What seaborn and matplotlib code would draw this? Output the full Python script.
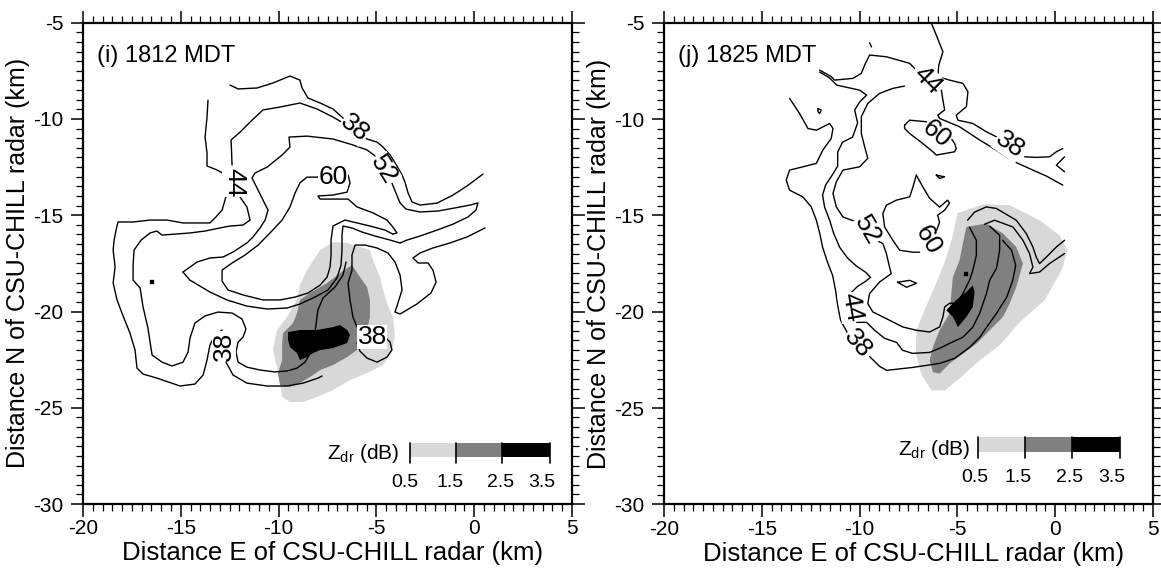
import matplotlib
matplotlib.use("Agg")
import matplotlib.pyplot as plt
from matplotlib.ticker import MultipleLocator
from matplotlib.patches import Rectangle
import pandas as pd
import seaborn as sns

# ---------------- Panel (i) 1812 MDT : reflectivity contours (km) ----------------
I_38NE_X = [-12.48,-12.07,-11.10,-10.29,-9.42,-8.91,-8.80,-8.50,-7.88,-7.22,-6.76,-6.20,-5.48,-4.97,-4.66,-4.30,-3.95,-3.69,-3.54,-3.38,-3.18,-2.77,-1.90,-1.08,-0.37,0.45]
I_38NE_Y = [-8.24,-8.44,-8.39,-8.13,-7.77,-7.98,-8.39,-8.91,-9.17,-9.48,-9.90,-10.42,-11.04,-11.20,-11.46,-11.87,-12.44,-12.91,-13.28,-13.85,-14.31,-14.47,-14.37,-13.95,-13.48,-12.86]
I_44A_X = [-12.38,-12.43,-11.97,-11.46,-10.80,-9.93,-8.91,-8.04,-7.22,-6.61,-6.25]
I_44A_Y = [-12.39,-11.09,-10.68,-10.16,-9.53,-9.38,-9.17,-9.48,-9.90,-10.26,-10.58]
I_44B_X = [-11.97,-11.62,-11.46,-11.82,-12.48,-13.00,-13.76,-14.53,-15.29,-15.96,-16.22,-16.57,-17.03,-17.39,-17.44,-17.44,-17.08,-16.93,-16.68,-16.47,-15.96,-15.45,-14.89,-14.63,-14.53,-14.28,-13.76,-13.10,-12.38,-11.87,-11.67,-11.82,-12.07,-12.18,-12.07,-11.62,-10.95,-10.18,-9.57,-9.06,-8.65,-8.35,-8.19,-8.09,-7.99,-7.73,-7.12,-6.71,-6.55]
I_44B_Y = [-14.06,-14.57,-15.25,-15.51,-15.56,-15.66,-15.82,-15.92,-15.98,-16.03,-15.82,-15.92,-16.29,-16.81,-17.59,-18.37,-18.78,-19.77,-20.86,-22.26,-22.63,-22.83,-22.63,-22.11,-21.38,-20.60,-20.23,-20.03,-20.08,-20.39,-20.91,-21.33,-21.59,-22.11,-22.63,-22.89,-23.04,-23.14,-23.09,-22.94,-22.63,-22.11,-21.48,-20.70,-19.92,-19.30,-18.73,-18.11,-17.43]
I_38WA_X = [-13.61,-13.66,-13.76,-13.66,-13.66,-13.15,-12.59]
I_38WA_Y = [-9.02,-9.90,-10.94,-11.77,-12.44,-12.65,-12.96]
I_38WB_X = [-12.59,-12.74,-12.89,-13.25,-13.51,-14.02,-14.89,-15.70,-16.57,-17.44,-18.21,-18.31,-18.41,-18.46,-18.36,-18.46,-18.26,-18.01,-17.60,-17.34,-17.24,-16.93,-16.22,-15.04,-14.28,-13.86,-13.66,-13.51,-13.25,-12.89]
I_38WB_Y = [-13.59,-14.21,-14.73,-15.14,-15.40,-15.40,-15.40,-15.25,-15.25,-15.35,-15.35,-15.77,-16.29,-16.81,-17.69,-18.52,-19.40,-20.08,-21.12,-22.00,-22.94,-23.25,-23.46,-23.87,-23.77,-23.30,-22.52,-21.74,-21.22,-20.96]
I_38WC_X = [-12.69,-12.33,-11.62,-10.59,-9.57,-8.75,-7.99,-7.78]
I_38WC_Y = [-22.63,-23.30,-23.72,-23.87,-23.87,-23.72,-23.46,-23.35]
I_52A_X = [-14.89,-14.17,-13.51,-12.84,-12.33,-11.62,-11.31,-10.95,-10.69,-10.54,-10.80,-11.10,-11.36,-11.21,-10.59,-9.82,-9.42,-9.47,-8.55,-7.22,-6.20,-5.48,-5.07]
I_52A_Y = [-17.95,-17.43,-17.22,-17.17,-16.91,-16.44,-16.13,-15.66,-15.25,-14.73,-14.21,-13.59,-13.07,-12.81,-12.50,-11.87,-11.46,-10.94,-10.89,-11.04,-11.35,-11.61,-11.92]
I_52B_X = [-4.21,-4.00,-3.79,-3.49,-2.77,-1.85,-0.98,-0.21,0.19,0.09,-0.32,-1.08,-1.90,-2.77,-3.44,-3.79]
I_52B_Y = [-13.32,-13.85,-14.36,-14.68,-14.83,-14.78,-14.62,-14.47,-14.36,-14.73,-15.09,-15.46,-15.77,-16.08,-16.29,-16.44]
I_52C_X = [-14.89,-14.53,-13.51,-12.64,-11.62,-10.59,-9.57,-8.91,-8.14,-7.47,-7.02,-6.81,-6.76,-6.76,-6.71,-6.25,-5.74,-5.07,-4.30,-3.79]
I_52C_Y = [-17.95,-18.37,-18.99,-19.40,-19.72,-19.87,-19.82,-19.61,-19.25,-18.88,-18.26,-17.59,-16.81,-16.03,-15.56,-15.66,-15.87,-16.08,-16.29,-16.44]
I_60A_X = [-7.99,-8.55,-8.91,-9.16,-9.42,-9.82,-10.44,-11.05,-11.72,-12.38,-12.89,-12.89,-12.59,-11.82,-10.80,-9.93,-9.16,-8.50,-7.88,-7.52,-7.37,-7.32,-7.32,-7.22,-6.61,-5.99,-5.33,-4.56,-4.16]
I_60A_Y = [-13.02,-13.02,-13.32,-13.85,-14.57,-15.25,-15.92,-16.55,-17.07,-17.48,-17.85,-18.42,-18.88,-19.14,-19.40,-19.40,-19.25,-19.04,-18.63,-18.21,-17.69,-17.07,-16.29,-15.56,-15.25,-15.40,-15.56,-15.77,-15.98]
I_60B_X = [-6.45,-6.35,-6.50,-7.22,-7.99,-7.88,-7.12,-6.45,-5.99,-5.17,-4.46,-4.16,-3.95,-4.16]
I_60B_Y = [-12.91,-13.32,-13.80,-13.95,-14.00,-14.16,-14.16,-14.16,-14.57,-14.88,-15.25,-15.61,-15.92,-15.98]
I_EAST_X = [-5.99,-6.20,-6.35,-6.45,-6.25,-6.25,-6.09,-5.58,-4.97,-4.41,-4.05,-3.79,-3.69,-3.90,-4.05,-3.79,-2.93,-2.21,-1.95,-2.11,-2.36,-2.87,-3.13,-2.77,-2.11,-1.24,-0.37,0.55]
I_EAST_Y = [-20.81,-20.29,-19.40,-18.52,-17.85,-17.07,-16.55,-16.55,-16.70,-16.96,-17.43,-18.11,-18.88,-19.56,-20.03,-20.13,-19.61,-19.04,-18.47,-17.85,-17.48,-17.48,-17.22,-16.96,-16.70,-16.44,-16.13,-15.66]
I_38E_X = [-4.56,-4.30,-4.21,-4.46,-4.97,-5.48,-5.84,-5.99]
I_38E_Y = [-21.33,-21.59,-22.00,-22.37,-22.63,-22.42,-22.06,-21.64]
I_DOT_X = [-16.47]
I_DOT_Y = [-18.47]

# Zdr shading (i)
I_ZDR05_X = [-9.06,-9.57,-10.08,-10.29,-10.08,-9.93,-9.82,-9.42,-8.75,-8.04,-7.22,-6.35,-5.48,-4.66,-4.16,-4.05,-4.16,-4.46,-4.66,-4.82,-5.17,-5.33,-5.84,-6.50,-7.22,-7.88,-8.55,-8.91]
I_ZDR05_Y = [-19.40,-20.29,-20.96,-22.00,-22.89,-23.72,-24.44,-24.70,-24.70,-24.44,-24.08,-23.56,-23.20,-22.78,-22.00,-21.12,-20.29,-19.56,-18.88,-18.21,-17.33,-16.81,-16.65,-16.44,-16.39,-16.81,-17.85,-18.63]
I_ZDR15_X = [-6.25,-5.84,-5.48,-5.33,-5.33,-5.48,-5.69,-5.99,-6.50,-7.22,-7.88,-8.24,-8.91,-9.42,-9.93,-10.03,-9.82,-9.82,-9.77,-9.26,-9.06,-8.91,-8.40,-7.52,-6.86]
I_ZDR15_Y = [-17.59,-18.21,-18.73,-19.40,-20.29,-20.96,-21.64,-22.00,-22.37,-22.78,-23.04,-23.30,-23.72,-23.92,-23.82,-23.20,-22.52,-21.64,-21.12,-20.60,-20.08,-19.40,-19.04,-18.52,-18.00]
I_ZDR25_X = [-9.52,-8.91,-8.04,-7.22,-6.86,-6.50,-6.35,-6.50,-7.22,-7.88,-8.24,-8.55,-8.91,-9.06,-9.42,-9.52]
I_ZDR25_Y = [-21.07,-20.96,-20.96,-20.81,-20.70,-20.96,-21.22,-21.64,-21.90,-22.00,-22.16,-22.37,-22.52,-22.16,-21.85,-21.48]

# contour labels (i): text, x, y, rotation
I_LAB_TXT = ["38", "44", "60", "52", "38", "38"]
I_LAB_X = [-6.09, -12.28, -7.22, -4.61, -12.79, -5.22]
I_LAB_Y = [-10.47, -13.28, -13.02, -12.65, -21.80, -21.33]
I_LAB_ROT = [-40, -90, 0, -58, 90, 0]

# ---------------- Panel (j) 1825 MDT ----------------
J_38A_X = [-6.33,-6.08,-5.74,-5.95,-6.00,-5.40,-4.72,-4.46,-4.54,-5.06,-4.97,-4.21,-3.52,-3.01]
J_38A_Y = [-5.03,-5.64,-6.51,-7.20,-7.80,-7.98,-8.15,-8.58,-9.36,-9.80,-10.06,-10.23,-10.66,-10.92]
J_38B_X = [-1.56,-0.97,-0.29,0.06,0.39]
J_38B_Y = [-11.96,-11.99,-11.96,-11.70,-11.53]
J_44A_X = [-12.04,-11.45,-11.28,-10.34,-9.91,-9.74,-9.49,-8.63,-7.44,-7.19]
J_44A_Y = [-7.46,-7.80,-7.98,-7.89,-7.63,-7.20,-6.68,-6.77,-7.11,-7.37]
J_44B_X = [-5.82,-5.74,-5.65,-6.00,-5.91,-4.89,-3.86,-3.18,-2.16,-1.14,-0.45,0.39]
J_44B_Y = [-8.50,-9.02,-9.53,-9.80,-9.97,-10.40,-11.09,-11.51,-12.18,-12.65,-12.96,-13.43]
J_60A_X = [-7.70,-7.44,-6.59,-5.91,-5.40,-5.14,-5.06,-5.14,-6.08,-6.25,-6.77,-7.44,-7.70,-7.70]
J_60A_Y = [-10.32,-10.06,-10.14,-10.47,-10.89,-11.27,-11.53,-11.70,-11.87,-11.70,-11.27,-10.75,-10.49,-10.32]
J_V_X = [0.48, 0.06, 0.48]
J_V_Y = [-11.96, -12.39, -12.74]
J_TICK_X = [-9.49, -9.39]
J_TICK_Y = [-6.04, -6.26]
J_LOOP_X = [-12.13,-11.96,-12.04,-12.13,-12.13]
J_LOOP_Y = [-9.45,-9.53,-9.71,-9.62,-9.45]
J_TRI_X = [-6.08,-5.65,-5.91,-6.08]
J_TRI_Y = [-12.91,-13.00,-13.08,-12.91]
J_DIA_X = [-8.06,-7.44,-7.09,-7.60,-8.06]
J_DIA_Y = [-18.47,-18.37,-18.52,-18.73,-18.47]
J_38WA_X = [-13.58,-13.07,-12.64,-12.21,-11.53,-11.36,-11.45,-11.88,-12.21,-12.90,-13.58,-13.75,-13.58,-12.90,-12.47,-12.21,-12.04,-11.89,-11.64,-11.38,-11.23,-11.12,-10.97,-10.61]
J_38WA_Y = [-8.93,-9.71,-10.49,-10.58,-10.23,-10.49,-11.01,-11.61,-12.30,-12.48,-12.65,-13.17,-13.69,-14.04,-14.56,-15.25,-15.92,-16.65,-17.43,-18.11,-18.88,-19.66,-20.44,-21.12]
J_38WB_X = [-9.49,-8.98,-8.62,-7.29,-5.91,-5.14,-4.38,-3.86,-3.51,-3.00,-2.48,-2.17,-2.02,-2.23,-2.69]
J_38WB_Y = [-22.32,-22.83,-23.04,-22.89,-22.68,-22.42,-21.85,-21.33,-20.81,-20.08,-19.25,-18.37,-17.59,-16.81,-16.29]
J_44W_X = [-12.04,-11.53,-11.17,-10.00,-9.64,-10.00,-10.25,-10.10,-10.36,-10.87,-11.12,-11.12,-11.43,-11.74,-11.89,-11.79,-11.53,-11.33,-11.02,-10.61,-10.15,-9.69,-9.44,-9.69,-10.10,-10.41]
J_44W_Y = [-7.56,-7.87,-8.24,-8.50,-8.76,-9.12,-9.53,-10.21,-10.94,-11.20,-11.72,-12.44,-12.96,-13.43,-13.95,-14.57,-15.25,-15.92,-16.65,-17.22,-17.64,-17.95,-18.21,-18.42,-18.68,-18.99]
J_44S_X = [-10.15,-9.64,-9.23,-8.72,-8.11,-7.80,-7.29,-6.42,-5.81,-5.40,-4.73,-4.22,-3.86,-3.51,-3.35,-3.00,-2.84,-2.84,-3.35]
J_44S_Y = [-20.55,-20.55,-20.96,-21.38,-21.59,-22.00,-22.16,-22.11,-21.85,-21.64,-21.33,-20.81,-20.08,-19.04,-18.37,-17.74,-16.81,-16.03,-15.56]
J_52A_X = [-7.70,-8.30,-8.98,-9.58,-9.91,-9.91,-9.74,-9.58,-10.00,-10.85,-11.19,-11.36,-11.19,-10.85,-10.17]
J_52A_Y = [-8.29,-8.41,-8.67,-9.19,-9.88,-10.75,-11.44,-12.04,-12.48,-12.65,-13.26,-13.86,-14.56,-15.08,-15.34]
J_52B_X = [-9.15,-8.81,-8.63,-8.47,-8.38,-8.98,-9.49,-9.58,-9.32,-8.63,-7.79,-7.10,-6.42,-5.91,-5.74,-5.65,-5.40,-5.04,-4.72,-4.38,-4.21,-4.03,-4.03,-4.38]
J_52B_Y = [-16.29,-16.46,-16.98,-17.68,-18.02,-18.46,-19.06,-19.58,-20.01,-20.36,-20.79,-20.96,-21.05,-20.79,-20.27,-19.75,-19.56,-19.56,-19.06,-18.37,-17.85,-17.07,-16.29,-15.61]
J_60B_X = [-7.10,-7.27,-7.44,-8.12,-8.63,-8.81,-8.72,-8.30,-7.95,-7.27,-6.93]
J_60B_Y = [-12.91,-13.52,-14.04,-14.21,-14.47,-14.90,-15.60,-16.29,-16.81,-16.91,-16.91]
J_60C_X = [-6.06,-5.91,-6.01,-5.65,-5.40,-5.50,-5.91,-6.42,-6.77,-7.10]
J_60C_Y = [-15.77,-15.35,-14.99,-14.73,-14.36,-14.21,-14.57,-14.11,-13.52,-12.91]
J_BAND1_X = [0.48,0.06,-0.45,-0.80,-0.97,-1.14,-1.48,-1.99,-3.01,-3.52,-4.12,-4.48]
J_BAND1_Y = [-16.29,-16.64,-17.16,-17.50,-17.16,-16.64,-15.94,-15.25,-14.64,-14.56,-14.83,-15.25]
J_BAND2_X = [0.48,-0.29,-0.80,-1.31,-1.14,-1.31,-1.65,-2.16,-3.10,-3.61]
J_BAND2_Y = [-16.98,-17.50,-17.94,-18.02,-17.68,-16.98,-16.29,-15.60,-15.25,-15.46]
J_DOT_X = [-4.54]
J_DOT_Y = [-18.02]

# Zdr shading (j)
J_ZDR05_X = [-4.99,-3.61,-2.33,-0.80,0.22,0.63,0.33,-0.54,-1.82,-2.84,-3.86,-4.89,-5.65,-6.32,-6.83,-7.13,-7.09,-6.68,-6.17,-5.65,-5.30]
J_ZDR05_Y = [-14.88,-14.42,-14.47,-15.25,-16.03,-16.81,-17.85,-19.40,-20.55,-21.74,-22.52,-23.46,-24.08,-24.08,-23.30,-22.11,-20.96,-19.92,-18.73,-17.43,-16.29]
J_ZDR15_X = [-4.54,-3.52,-2.67,-1.99,-1.65,-1.99,-2.33,-2.67,-3.35,-4.03,-4.72,-5.40,-5.91,-6.25,-6.42,-6.25,-5.91,-5.40,-5.31,-5.23,-4.89,-4.72]
J_ZDR15_Y = [-15.60,-15.42,-15.94,-16.64,-17.50,-18.72,-19.58,-20.27,-20.96,-21.66,-22.18,-22.69,-23.21,-23.13,-22.52,-21.83,-20.96,-20.10,-19.06,-18.20,-17.33,-16.46]
J_ZDR25_X = [-5.57,-5.06,-4.54,-4.21,-4.12,-4.21,-4.54,-4.97,-5.23]
J_ZDR25_Y = [-19.92,-19.40,-18.97,-18.63,-18.97,-19.75,-20.27,-20.79,-20.27]

J_LAB_TXT = ["44", "60", "38", "52", "60", "44", "38"]
J_LAB_X = [-6.52, -6.06, -2.33, -9.59, -6.52, -10.41, -10.10]
J_LAB_Y = [-7.98, -10.76, -11.35, -15.77, -16.29, -19.77, -21.64]
J_LAB_ROT = [-45, -40, -35, -60, -60, -80, -50]

# legend
ZDR_BOUNDS = [0.5, 1.5, 2.5, 3.5]
PANEL_TITLES = ["(i) 1812 MDT", "(j) 1825 MDT"]
X_LABEL = "Distance E of CSU-CHILL radar (km)"
Y_LABEL = "Distance N of CSU-CHILL radar (km)"

ZDR_COLORS = ["#d8d8d8", "#808080", "#000000"]

# ---------------- drawing ----------------
sns.set_theme(style="ticks")
plt.rcParams["font.family"] = ["Liberation Sans", "DejaVu Sans"]
plt.rcParams["axes.unicode_minus"] = False
plt.rcParams["mathtext.fontset"] = "custom"
plt.rcParams["mathtext.rm"] = "Liberation Sans"
plt.rcParams["mathtext.it"] = "Liberation Sans"

fig = plt.figure(figsize=(11.61, 5.71), dpi=100)
ax1 = fig.add_axes([0.0715, 0.1173, 0.4212, 0.8429])
ax2 = fig.add_axes([0.5719, 0.1165, 0.4212, 0.8438])

I_LINES = [(I_38NE_X, I_38NE_Y), (I_44A_X, I_44A_Y), (I_44B_X, I_44B_Y),
           (I_38WA_X, I_38WA_Y), (I_38WB_X, I_38WB_Y), (I_38WC_X, I_38WC_Y),
           (I_52A_X, I_52A_Y), (I_52B_X, I_52B_Y), (I_52C_X, I_52C_Y),
           (I_60A_X, I_60A_Y), (I_60B_X, I_60B_Y), (I_EAST_X, I_EAST_Y),
           (I_38E_X, I_38E_Y)]
J_LINES = [(J_38A_X, J_38A_Y), (J_38B_X, J_38B_Y), (J_44A_X, J_44A_Y), (J_44B_X, J_44B_Y),
           (J_60A_X, J_60A_Y), (J_V_X, J_V_Y), (J_TICK_X, J_TICK_Y), (J_LOOP_X, J_LOOP_Y),
           (J_TRI_X, J_TRI_Y), (J_DIA_X, J_DIA_Y), (J_38WA_X, J_38WA_Y), (J_38WB_X, J_38WB_Y),
           (J_44W_X, J_44W_Y), (J_44S_X, J_44S_Y), (J_52A_X, J_52A_Y), (J_52B_X, J_52B_Y),
           (J_60B_X, J_60B_Y), (J_60C_X, J_60C_Y), (J_BAND1_X, J_BAND1_Y), (J_BAND2_X, J_BAND2_Y)]
I_FILLS = [(I_ZDR05_X, I_ZDR05_Y), (I_ZDR15_X, I_ZDR15_Y), (I_ZDR25_X, I_ZDR25_Y)]
J_FILLS = [(J_ZDR05_X, J_ZDR05_Y), (J_ZDR15_X, J_ZDR15_Y), (J_ZDR25_X, J_ZDR25_Y)]


def draw_panel(ax, fills, lines, dot, labels):
    for (fx, fy), col in zip(fills, ZDR_COLORS):
        ax.fill(fx, fy, color=col, lw=0, zorder=1)
    for lx, ly in lines:
        df = pd.DataFrame({"x": lx, "y": ly})
        sns.lineplot(data=df, x="x", y="y", sort=False, estimator=None,
                     color="black", lw=1.0, ax=ax, zorder=3)
    sns.scatterplot(x=dot[0], y=dot[1], color="black", s=8, marker="s",
                    edgecolor="black", ax=ax, zorder=3)
    for t, x, y, r in zip(*labels):
        ax.text(x, y, t, rotation=r, ha="center", va="center", fontsize=19,
                family=["Liberation Sans Narrow", "Liberation Sans"],
                rotation_mode="anchor", zorder=5, color="black",
                bbox=dict(facecolor="white", edgecolor="none", pad=0.2))


draw_panel(ax1, I_FILLS, I_LINES, (I_DOT_X, I_DOT_Y),
           (I_LAB_TXT, I_LAB_X, I_LAB_Y, I_LAB_ROT))
draw_panel(ax2, J_FILLS, J_LINES, (J_DOT_X, J_DOT_Y),
           (J_LAB_TXT, J_LAB_X, J_LAB_Y, J_LAB_ROT))


def draw_legend(ax, edges, y0, y1, ybot, lab_x, lab_y, txt_x, txt_y):
    for i in range(3):
        ax.add_patch(Rectangle((edges[i], y0), edges[i + 1] - edges[i], y1 - y0,
                               transform=ax.transAxes, facecolor=ZDR_COLORS[i],
                               edgecolor="none", zorder=4))
    for e in edges:
        ax.plot([e, e], [ybot, y1], transform=ax.transAxes, color="black",
                lw=1.2, zorder=5)
    for b, lx in zip(ZDR_BOUNDS, lab_x):
        ax.text(lx, lab_y, f"{b:.1f}", transform=ax.transAxes, ha="center",
                va="center", fontsize=14, color="black")
    ax.text(txt_x, txt_y, r"$\mathregular{Z_{dr}}$ (dB)", transform=ax.transAxes,
            ha="right", va="center", fontsize=15, color="black")


draw_legend(ax1, [0.669, 0.763, 0.857, 0.955], 0.098, 0.127, 0.085,
            [0.658, 0.750, 0.853, 0.938], 0.044, 0.648, 0.104)
draw_legend(ax2, [0.642, 0.738, 0.834, 0.933], 0.109, 0.140, 0.097,
            [0.636, 0.725, 0.830, 0.916], 0.055, 0.626, 0.115)

for ax, title in zip((ax1, ax2), PANEL_TITLES):
    ax.set_xlim(-20, 5)
    ax.set_ylim(-30, -5)
    ax.xaxis.set_major_locator(MultipleLocator(5))
    ax.yaxis.set_major_locator(MultipleLocator(5))
    ax.xaxis.set_minor_locator(MultipleLocator(0.5))
    ax.yaxis.set_minor_locator(MultipleLocator(0.5))
    ax.tick_params(which="both", direction="out", top=True, right=True,
                   labeltop=False, labelright=False, color="black",
                   labelcolor="black")
    ax.tick_params(which="major", length=9, width=1.1, labelsize=15)
    ax.tick_params(axis="x", which="major", pad=2)
    ax.tick_params(axis="y", which="major", pad=5)
    ax.tick_params(which="minor", length=5, width=0.9)
    for s in ax.spines.values():
        s.set_linewidth(1.6)
        s.set_color("black")
    ax.set_xlabel(X_LABEL, fontsize=18.5, color="black")
    ax.set_ylabel(Y_LABEL, fontsize=18, color="black")
    ax.xaxis.set_label_coords(0.51, -0.077)
    ax.yaxis.set_label_coords(-0.108, 0.5)
    ax.text(0.029, 0.931, title, transform=ax.transAxes, ha="left",
            va="center", fontsize=17, color="black", zorder=6)
    ax.set_facecolor("white")

fig.savefig("out.png", dpi=100, facecolor="white")
